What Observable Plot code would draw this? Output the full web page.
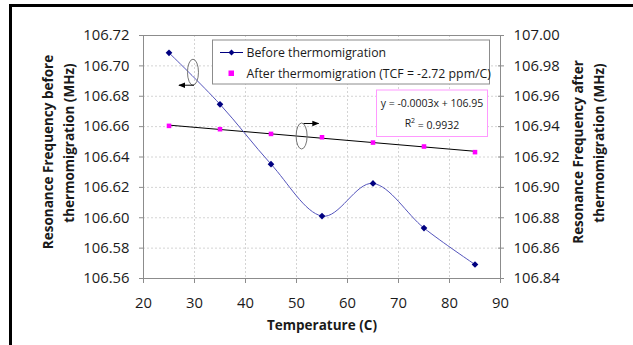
<!DOCTYPE html>
<html>
<head>
<meta charset="utf-8">
<script src="https://cdn.jsdelivr.net/npm/d3@7"></script>
<script src="https://cdn.jsdelivr.net/npm/@observablehq/plot@0.6"></script>
<style>
  html, body { margin: 0; padding: 0; background: #fff; }
  #wrap { position: relative; width: 633px; height: 345px; overflow: hidden; }
  #border { position: absolute; left: 9px; top: 4px; width: 640px; height: 360px;
            border-top: 3px solid #000; border-left: 3px solid #000; box-sizing: border-box; }
  #chart { position: absolute; left: 0; top: 0; }
</style>
</head>
<body>
<div id="wrap"><div id="chart"></div><div id="border"></div></div>
<script>
// ---- data ----
const temperatures = [25, 35, 45, 55, 65, 75, 85];
const beforeMHz = [106.7086, 106.6747, 106.6353, 106.6011, 106.6226, 106.5932, 106.5692];
const afterMHz  = [106.9405, 106.9383, 106.9352, 106.9330, 106.9295, 106.9269, 106.9232];
const xTicks = [20, 30, 40, 50, 60, 70, 80, 90];
const leftTicks = [106.56, 106.58, 106.60, 106.62, 106.64, 106.66, 106.68, 106.70, 106.72];
const rightTicks = [106.84, 106.86, 106.88, 106.90, 106.92, 106.94, 106.96, 106.98, 107.00];
const seriesNames = ["Before thermomigration", "After thermomigration (TCF = -2.72 ppm/C)"];
const trendText = ["y = -0.0003x + 106.95", "R2 = 0.9932"];
// annotation ellipses (data units)
const ellipses = [
  {x: 29.8, y: 106.6955, axis: "left", dir: -1},
  {x: 51.1, y: 106.9335, axis: "right", dir: 1}
];

const OFFSET = rightTicks[0] - leftTicks[0]; // right axis = left + OFFSET
const before = temperatures.map((t, i) => ({t, v: beforeMHz[i]}));
const after = temperatures.map((t, i) => ({t, v: afterMHz[i] - OFFSET}));
const rightPos = rightTicks.map(t => t - OFFSET);

const FONT = "'Open Sans', 'Noto Sans', sans-serif";
const TXT = "#1a1a1a";

const plot = Plot.plot({
  width: 633, height: 345,
  marginLeft: 143, marginRight: 133, marginTop: 35, marginBottom: 67,
  style: {fontFamily: FONT, fontSize: "14.8px", color: TXT, background: "transparent"},
  x: {domain: [20, 90]},
  y: {domain: [leftTicks[0], leftTicks[leftTicks.length - 1]]},
  marks: [
    Plot.gridX(xTicks, {stroke: "#d4d4d4", strokeOpacity: 1, strokeDasharray: "2,2"}),
    Plot.gridY(leftTicks, {stroke: "#d4d4d4", strokeOpacity: 1, strokeDasharray: "2,2"}),
    Plot.frame({stroke: "#8c8c8c"}),
    Plot.axisX(xTicks, {tickSize: 5, tickPadding: 14, stroke: "#8c8c8c", label: null, fill: TXT}),
    Plot.axisY(leftTicks, {tickSize: 4, tickPadding: 10, stroke: "#8c8c8c", label: null, fill: TXT,
      tickFormat: d => d.toFixed(2)}),
    Plot.axisY(rightPos, {anchor: "right", tickSize: 3, tickPadding: 10,
      stroke: "#8c8c8c", label: null, fill: TXT, tickFormat: d => (d + OFFSET).toFixed(2)}),
    Plot.axisY(rightPos, {anchor: "right", tickSize: 3, dx: -3, stroke: "#8c8c8c", label: null,
      tickFormat: () => ""}),
    // trendline of after data
    Plot.linearRegressionY(after, {x: "t", y: "v", stroke: "#000", strokeWidth: 1, ci: 0}),
    // before series smoothed line
    Plot.line(before, {x: "t", y: "v", curve: "cardinal", stroke: "#5454bc", strokeWidth: 1}),
    Plot.dot(before, {x: "t", y: "v", symbol: "diamond2", r: 3, fill: "#000080", stroke: "none"}),
    Plot.dot(after, {x: "t", y: "v", symbol: "square2", r: 2.9, fill: "#ff00ff", stroke: "none"})
  ]
});
document.getElementById("chart").append(plot);

const svg = d3.select(plot);
const sx = plot.scale("x"), sy = plot.scale("y");
const px = v => sx.apply(v), py = v => sy.apply(v);

// arrow marker
const defs = svg.append("defs");
defs.append("marker").attr("id", "ah").attr("viewBox", "0 0 10 10").attr("refX", 9).attr("refY", 5)
  .attr("markerWidth", 7).attr("markerHeight", 7).attr("orient", "auto-start-reverse")
  .append("path").attr("d", "M0,1 L10,5 L0,9 z").attr("fill", "#000");

// ellipses + arrows
ellipses.forEach(e => {
  const cx = px(e.x);
  const cy = py(e.axis === "left" ? e.y : e.y - OFFSET);
  svg.append("ellipse").attr("cx", cx).attr("cy", cy).attr("rx", 5.5).attr("ry", 13)
    .attr("fill", "none").attr("stroke", "#777").attr("stroke-width", 1);
  const ay = e.dir < 0 ? cy + 13 : cy - 12.5;
  const ax = e.dir < 0 ? cx + 1 : cx + 2;
  svg.append("line").attr("x1", ax).attr("y1", ay).attr("x2", ax + e.dir * 15).attr("y2", ay)
    .attr("stroke", "#000").attr("stroke-width", 1).attr("marker-end", "url(#ah)");
});

// legend
const lg = svg.append("g").attr("font-family", FONT).attr("font-size", 12.3).attr("fill", TXT)
  .attr("text-anchor", "start");
lg.append("rect").attr("x", 212.5).attr("y", 40).attr("width", 277).attr("height", 44)
  .attr("fill", "#fff").attr("stroke", "#8c8c8c");
lg.append("line").attr("x1", 220).attr("x2", 243).attr("y1", 52.5).attr("y2", 52.5)
  .attr("stroke", "#000080").attr("stroke-width", 1);
lg.append("path").attr("d", "M231.5,49.5 L234.5,52.5 L231.5,55.5 L228.5,52.5 z").attr("fill", "#000080");
lg.append("rect").attr("x", 228.5).attr("y", 70.5).attr("width", 5.5).attr("height", 5.5).attr("fill", "#ff00ff");
lg.append("text").attr("x", 246.5).attr("y", 52.5).attr("dy", "0.35em").text(seriesNames[0]);
lg.append("text").attr("x", 246.5).attr("y", 73.5).attr("dy", "0.35em").text(seriesNames[1]);

// trendline equation box
const eq = svg.append("g").attr("font-family", FONT).attr("font-size", 10.5).attr("fill", TXT)
  .attr("text-anchor", "middle");
eq.append("rect").attr("x", 376.5).attr("y", 90).attr("width", 111).attr("height", 46.5)
  .attr("fill", "#fff").attr("stroke", "#ff99ff");
eq.append("text").attr("x", 432).attr("y", 103).attr("dy", "0.35em").text(trendText[0]);
const r2 = eq.append("text").attr("x", 432).attr("y", 123.5).attr("dy", "0.35em");
r2.append("tspan").text("R");
r2.append("tspan").attr("dy", "-0.6em").attr("font-size", 7).text("2");
r2.append("tspan").attr("dy", "0.6em").text(" = 0.9932");

// axis titles
const at = svg.append("g").attr("font-family", FONT).attr("font-size", 13.5).attr("font-weight", "bold")
  .attr("fill", TXT).attr("text-anchor", "middle");
at.append("text").attr("x", 322).attr("y", 325).attr("dy", "0.35em").text("Temperature (C)");
const lab = (x, y, s) => at.append("text").attr("transform", `translate(${x},${y}) rotate(-90)`)
  .attr("dy", "0.35em").text(s);
lab(48, 152, "Resonance Frequency before");
lab(69.5, 143, "thermomigration (MHz)");
lab(578, 152, "Resonance Frequency after");
lab(599.5, 143, "thermomigration (MHz)");
</script>
</body>
</html>
